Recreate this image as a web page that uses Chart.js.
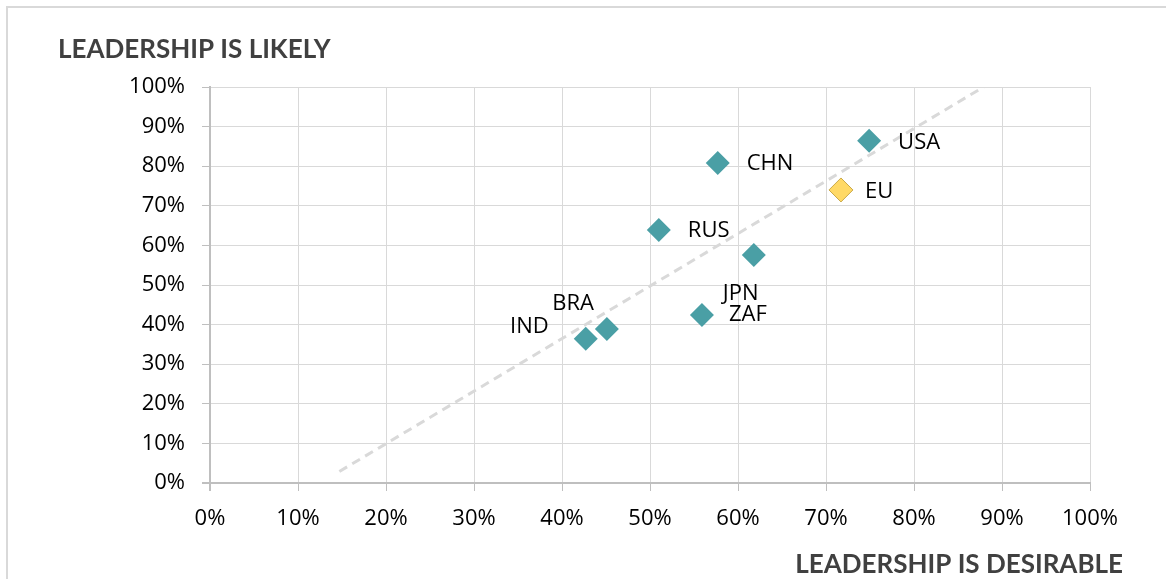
<!DOCTYPE html>
<html>
<head>
<meta charset="utf-8">
<script src="https://cdn.jsdelivr.net/npm/chart.js@4/dist/chart.umd.min.js"></script>
<style>
  html, body { margin: 0; padding: 0; background: #fff; }
  #wrap { width: 1166px; height: 579px; position: relative; }
</style>
</head>
<body>
<div id="wrap"><canvas id="scatter"></canvas></div>
<script>
// Survey results: how desirable vs how likely each power's leadership is (%)
const countries = ['USA', 'CHN', 'EU', 'RUS', 'JPN', 'ZAF', 'BRA', 'IND'];
const desirable = [74.9, 57.7, 71.7, 51.0, 61.8, 55.9, 45.1, 42.7];
const likely    = [86.4, 80.8, 74.0, 63.9, 57.6, 42.4, 38.9, 36.4];

// Trend line end points (desirable %, likely %)
const trendX = [14.7, 87.9];
const trendY = [2.9, 100];

const axisTicks = [0, 10, 20, 30, 40, 50, 60, 70, 80, 90, 100];

const TEAL = '#4a9fa5';
const GOLD = '#ffd966';

// label offsets relative to each marker (dx, dy, align)
const labelPos = {
  USA: [29, 2, 'left'],
  CHN: [29, 1, 'left'],
  EU:  [24, 2, 'left'],
  RUS: [29, 1, 'left'],
  JPN: [-31, 39, 'left'],
  ZAF: [27, 0, 'left'],
  BRA: [-13, -25, 'right'],
  IND: [-37, -12, 'right']
};

const points = countries.map((c, i) => ({ x: desirable[i], y: likely[i], name: c }));

const pointLabels = {
  id: 'pointLabels',
  afterDatasetsDraw(chart) {
    const ctx = chart.ctx;
    const meta = chart.getDatasetMeta(1);
    ctx.save();
    ctx.font = '22px "Open Sans", sans-serif';
    ctx.fillStyle = '#000';
    ctx.textBaseline = 'middle';
    meta.data.forEach((el, i) => {
      const name = countries[i];
      const [dx, dy, align] = labelPos[name];
      ctx.textAlign = align;
      ctx.fillText(name, el.x + dx, el.y + dy);
    });
    ctx.restore();
  }
};

const frameAndTitles = {
  id: 'frameAndTitles',
  beforeDraw(chart) {
    const ctx = chart.ctx;
    ctx.save();
    ctx.strokeStyle = '#d9d9d9';
    ctx.lineWidth = 2;
    ctx.beginPath();
    ctx.moveTo(7, 600);
    ctx.lineTo(7, 7);
    ctx.lineTo(1170, 7);
    ctx.stroke();
    ctx.restore();
  },
  afterDraw(chart) {
    const ctx = chart.ctx;
    ctx.save();
    ctx.font = 'bold 26px Lato, sans-serif';
    ctx.fillStyle = '#404040';
    ctx.textBaseline = 'middle';
    ctx.textAlign = 'left';
    ctx.fillText('LEADERSHIP IS LIKELY', 58, 50);
    ctx.textAlign = 'right';
    ctx.fillText('LEADERSHIP IS DESIRABLE', 1123, 565);
    ctx.restore();
  }
};

new Chart(document.getElementById('scatter'), {
  type: 'scatter',
  data: {
    datasets: [
      {
        type: 'line',
        label: 'Trend',
        data: trendX.map((x, i) => ({ x: x, y: trendY[i] })),
        borderColor: '#d9d9d9',
        borderWidth: 3,
        borderDash: [9, 6],
        pointRadius: 0,
        fill: false,
        order: 2
      },
      {
        label: 'Countries',
        data: points,
        pointStyle: 'rectRot',
        pointRadius: 12,
        pointHoverRadius: 12,
        backgroundColor: countries.map(c => c === 'EU' ? GOLD : TEAL),
        borderColor: countries.map(c => c === 'EU' ? '#c9a94a' : TEAL),
        borderWidth: countries.map(c => c === 'EU' ? 1 : 0),
        order: 1
      }
    ]
  },
  options: {
    responsive: true,
    maintainAspectRatio: false,
    animation: false,
    layout: { padding: { left: 0, top: 87, right: 76, bottom: 0 } },
    plugins: {
      legend: { display: false },
      tooltip: { enabled: false }
    },
    scales: {
      x: {
        type: 'linear',
        min: 0,
        max: 100,
        afterBuildTicks(scale) { scale.ticks = axisTicks.map(v => ({ value: v })); },
        afterFit(scale) { scale.height = 96; },
        ticks: {
          color: '#000',
          font: { family: '"Open Sans", sans-serif', size: 22 },
          padding: 15,
          callback: v => v + '%'
        },
        grid: {
          color: ctx => ctx.tick && ctx.tick.value === 0 ? '#bfbfbf' : '#d9d9d9',
          lineWidth: ctx => ctx.tick && ctx.tick.value === 0 ? 2 : 1,
          tickColor: '#bfbfbf',
          tickLength: 8
        },
        border: { color: '#bfbfbf', width: 2 }
      },
      y: {
        type: 'linear',
        min: 0,
        max: 100,
        afterBuildTicks(scale) { scale.ticks = axisTicks.map(v => ({ value: v })); },
        afterFit(scale) { scale.width = 210; },
        ticks: {
          color: '#000',
          font: { family: '"Open Sans", sans-serif', size: 22 },
          padding: 17,
          callback: v => v + '%'
        },
        grid: {
          color: ctx => ctx.tick && ctx.tick.value === 0 ? '#bfbfbf' : '#d9d9d9',
          lineWidth: ctx => ctx.tick && ctx.tick.value === 0 ? 2 : 1,
          tickColor: '#bfbfbf',
          tickLength: 8
        },
        border: { color: '#bfbfbf', width: 2 }
      }
    }
  },
  plugins: [pointLabels, frameAndTitles]
});
</script>
</body>
</html>
